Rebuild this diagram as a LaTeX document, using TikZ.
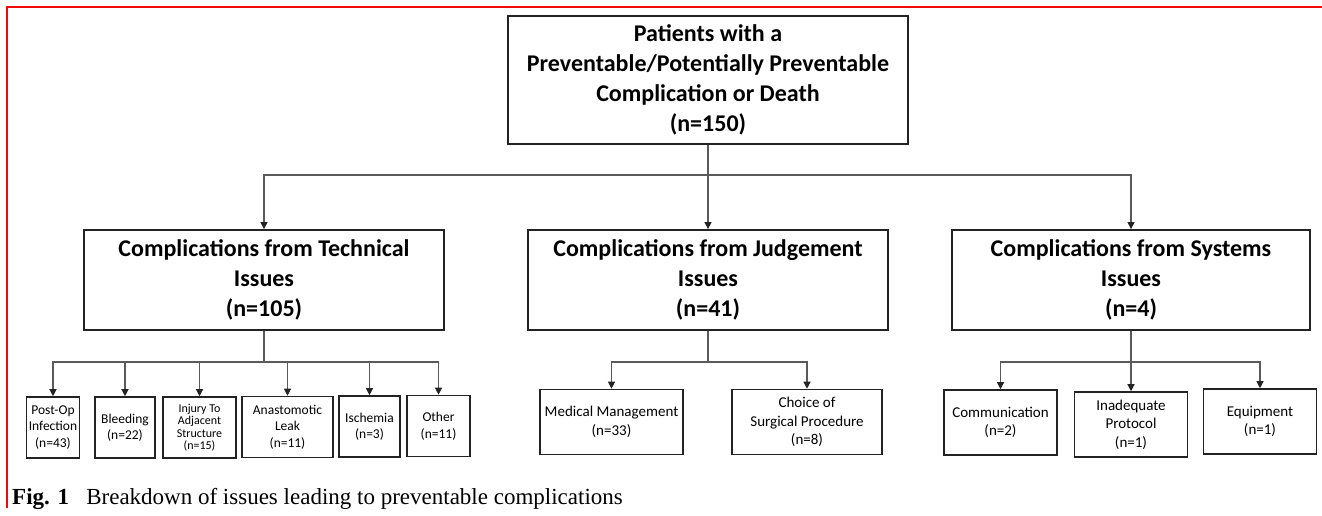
\documentclass[tikz,border=0pt]{standalone}
\usepackage{fontspec}
\setmainfont{Carlito}
\newfontfamily\capfont{Liberation Serif}
\usetikzlibrary{arrows.meta, positioning, calc}
\definecolor{framered}{RGB}{240, 10, 10}
\definecolor{boxline}{RGB}{35, 35, 35}
\definecolor{linkgray}{RGB}{90, 90, 90}

\begin{document}
\begin{tikzpicture}[
  x=1pt, y=-1pt,
  every node/.style={align=center, inner sep=0pt},
  bigbox/.style={draw=boxline, line width=1.8pt, font=\bfseries\fontsize{24}{30}\selectfont},
  tbox/.style={draw=boxline, line width=1.6pt, minimum height=61pt, font=\fontsize{13.5}{16.5}\selectfont},
  sbox/.style={draw=boxline, line width=1.6pt, minimum width=113pt, minimum height=65pt, font=\fontsize{15}{18.5}\selectfont},
  link/.style={draw=linkgray, line width=1.2pt},
  arr/.style={link, -{Triangle[length=7pt, width=7pt, color=boxline]}}
]
  \useasboundingbox (0,0) rectangle (1322,515);
  \draw[framered, line width=2.5pt] (7,508) -- (7,7) -- (1322,7);

  % Top box
  \node[bigbox, minimum width=400pt, minimum height=128pt] (top) at (708,80)
    {Patients with a\\Preventable/Potentially Preventable\\Complication or Death\\(n=150)};

  % Issue categories
  \node[bigbox, minimum width=360pt, minimum height=100pt] (tech) at (264,280)
    {Complications from Technical\\Issues\\(n=105)};
  \node[bigbox, minimum width=360pt, minimum height=100pt] (judg) at (708,280)
    {Complications from Judgement\\Issues\\(n=41)};
  \node[bigbox, minimum width=358pt, minimum height=100pt] (sys)  at (1131,280)
    {Complications from Systems\\Issues\\(n=4)};

  % Technical issues
  \node[tbox, minimum width=53pt] (postop)   at (53,427.5)  {Post-Op\\Infection\\(n=43)};
  \node[tbox, minimum width=60pt] (bleeding) at (125,427.5) {Bleeding\\(n=22)};
  \node[tbox, minimum width=73pt, font=\fontsize{12}{12.5}\selectfont] (injury) at (199.5,427.5)
    {Injury To\\Adjacent\\Structure\\(n=15)};
  \node[tbox, minimum width=91pt] (leak)     at (287.5,427)  {Anastomotic\\Leak\\(n=11)};
  \node[tbox, minimum width=61pt] (ischemia) at (369.5,426.5) {Ischemia\\(n=3)};
  \node[tbox, minimum width=63pt] (other)    at (438.5,426)  {Other\\(n=11)};

  % Judgement issues
  \node[sbox, minimum width=143pt] (medical) at (611.5,422) {Medical Management\\(n=33)};
  \node[sbox, minimum width=150pt] (choice)  at (807,422)   {Choice of\\Surgical Procedure\\(n=8)};

  % Systems issues
  \node[sbox] (comm)  at (1000.5,422.5) {Communication\\(n=2)};
  \node[sbox] (inad)  at (1131,424.5)   {Inadequate\\Protocol\\(n=1)};
  \node[sbox] (equip) at (1260,421.5)   {Equipment\\(n=1)};

  % Arrows
  \coordinate (split)  at (708,175);
  \coordinate (tsplit) at (264,362);
  \coordinate (jsplit) at (708,362);
  \coordinate (ssplit) at (1131,362);

  \draw[arr] (top) -- (judg);
  \draw[arr] (split) -| (tech.north);
  \draw[arr] (split) -| (sys.north);

  \draw[link] (tech) -- (tsplit);
  \foreach \n in {postop, bleeding, injury, leak, ischemia, other}
    \draw[arr] (tsplit) -| (\n.north);

  \draw[link] (judg) -- (jsplit);
  \draw[arr] (jsplit) -| (medical.north);
  \draw[arr] (jsplit) -| (choice.north);

  \draw[arr] (sys) -- (inad);
  \draw[arr] (ssplit) -| (comm.north);
  \draw[arr] (ssplit) -| (equip.north);

  % Caption
  \node[anchor=base west, font=\capfont\fontsize{23}{26}\selectfont] (caption) at (12,504)
    {\textbf{Fig. 1}\hspace{0.5em} Breakdown of issues leading to preventable complications};
\end{tikzpicture}
\end{document}
